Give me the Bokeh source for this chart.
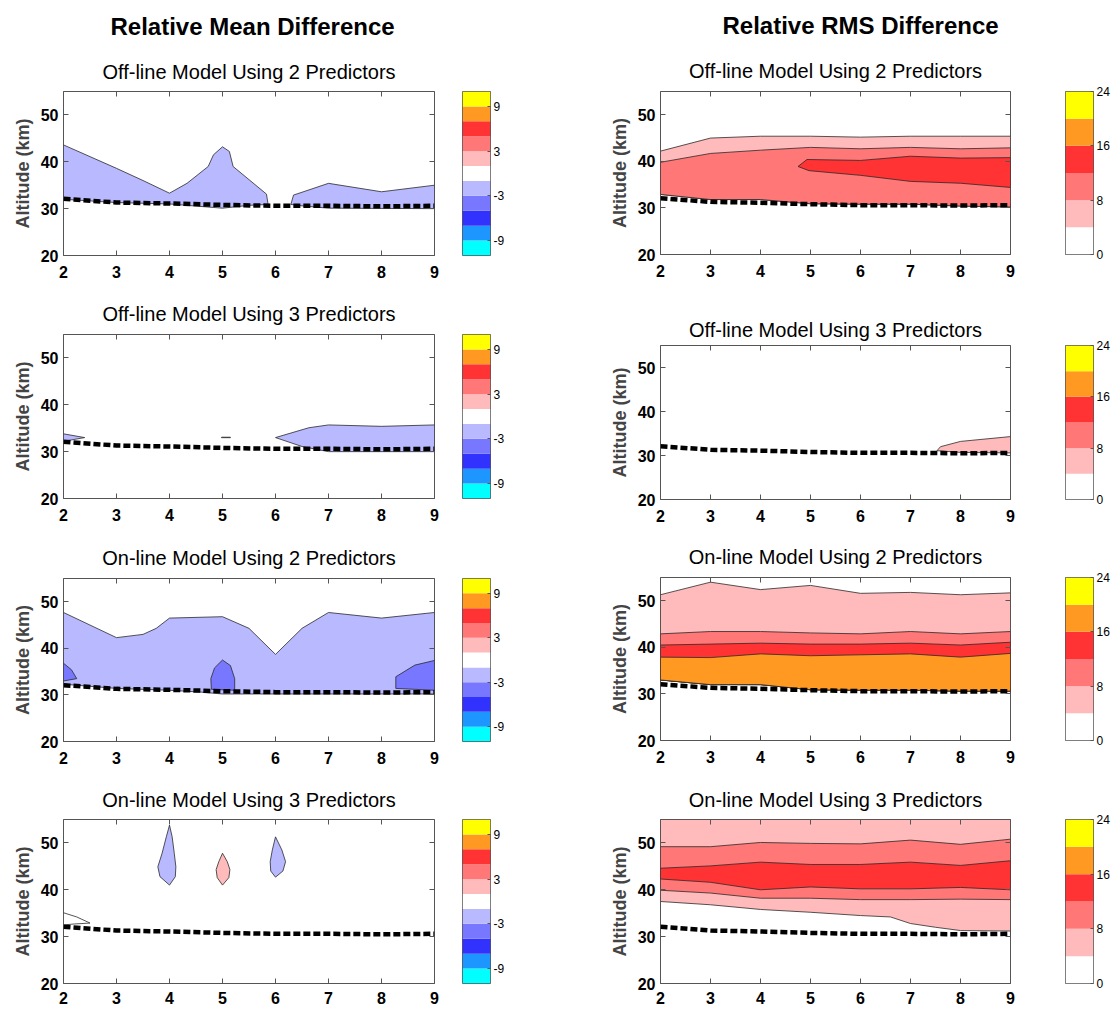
from bokeh.plotting import figure
from bokeh.layouts import row, column
from bokeh.models import Title, LinearAxis, FixedTicker, Range1d
from bokeh.embed import file_html
from bokeh.resources import INLINE

FONT = "Liberation Sans"

# ---------------- data ----------------
X = [2, 3, 4, 5, 6, 7, 8, 9]
X_TICKS = [2, 3, 4, 5, 6, 7, 8, 9]
Y_TICKS = [20, 30, 40, 50]
Y_MIN, Y_MAX = 20, 55

# dashed reference altitude line (km)
TROPO = [32.1, 31.3, 31.1, 30.8, 30.6, 30.6, 30.5, 30.6]

# colour scales
MEAN_EDGES = [-11, -9, -7, -5, -3, -1, 1, 3, 5, 7, 9, 11]
MEAN_COLORS = ["#00FFFF", "#1E96FF", "#3232FF", "#7777FF", "#B9B9FF", "#FFFFFF",
               "#FFBBBB", "#FF7777", "#FF3333", "#FF9922", "#FFFF00"]
MEAN_TICKS = [-9, -3, 3, 9]
MEAN_TICK_LABELS = ["-9", "-3", "3", "9"]
RMS_EDGES = [0, 4, 8, 12, 16, 20, 24]
RMS_COLORS = ["#FFFFFF", "#FFBBBB", "#FF7777", "#FF3333", "#FF9922", "#FFFF00"]
RMS_TICKS = [0, 8, 16, 24]
RMS_TICK_LABELS = ["0", "8", "16", "24"]

LAV, MED = MEAN_COLORS[4], MEAN_COLORS[3]
PINK_M = MEAN_COLORS[6]
PINK, SALMON, RED, ORANGE = RMS_COLORS[1], RMS_COLORS[2], RMS_COLORS[3], RMS_COLORS[4]

# --- Relative mean difference, off-line 2 predictors (-3..-1 regions)
A_R1_X = [2, 3, 3.5, 4, 4.33, 4.73, 4.83, 5.0, 5.13, 5.2, 5.83, 5.86, 5.5, 5.0, 4.0, 3.0, 2.0]
A_R1_Y = [43.6, 38.6, 36.0, 33.3, 35.4, 39.0, 41.5, 43.2, 42.2, 39.0, 33.1, 30.9, 30.7, 30.1, 31.0, 31.3, 32.0]
A_R2_X = [6.29, 6.34, 6.5, 7.0, 8.0, 9.0, 9.0, 7.0, 6.5]
A_R2_Y = [30.9, 32.9, 33.5, 35.4, 33.6, 35.0, 30.0, 30.1, 30.6]

# --- Relative mean difference, off-line 3 predictors
B_R1_X = [2, 2.4, 2]
B_R1_Y = [33.8, 33.0, 32.2]
B_R2_X = [4.98, 5.15, 5.15, 4.98]
B_R2_Y = [33.08, 33.08, 32.98, 32.98]
B_R3_X = [6.0, 6.63, 7.0, 8.0, 9.0, 9.0, 7.0, 6.5]
B_R3_Y = [33.0, 35.1, 35.7, 35.4, 35.7, 30.0, 30.0, 31.1]

# --- Relative mean difference, on-line 2 predictors
C_TOP_X = [2, 3, 3.5, 3.75, 4, 5, 5.5, 6, 6.5, 7, 8, 9]
C_TOP_Y = [47.7, 42.3, 43.0, 44.3, 46.5, 46.8, 44.3, 38.7, 44.3, 47.7, 46.5, 47.7]
C_BOT_X = [9, 5, 4.6, 4, 3, 2]
C_BOT_Y = [30.2, 30.2, 30.6, 31.0, 31.4, 32.3]
C_M1_X = [2, 2.15, 2.25, 2]
C_M1_Y = [36.8, 35.4, 33.5, 33.0]
C_M2_X = [4.79, 4.78, 4.85, 5.0, 5.15, 5.23, 5.23]
C_M2_Y = [31.2, 33.5, 35.8, 37.5, 36.3, 33.5, 31.0]
C_M3_X = [8.27, 8.27, 8.63, 9, 9]
C_M3_Y = [31.4, 33.9, 36.4, 37.4, 31.0]

# --- Relative mean difference, on-line 3 predictors
D_B1_X = [4.0, 4.05, 4.09, 4.12, 4.11, 4.0, 3.82, 3.78, 3.86, 3.94]
D_B1_Y = [53.8, 51.3, 47.8, 44.9, 42.8, 41.0, 42.8, 44.9, 47.8, 51.3]
D_P_X = [5.0, 5.09, 5.14, 5.12, 5.0, 4.9, 4.88, 4.93]
D_P_Y = [47.8, 46.0, 44.3, 42.6, 41.0, 42.6, 44.3, 46.0]
D_B2_X = [6.0, 6.12, 6.19, 6.14, 6.0, 5.91, 5.9, 5.94]
D_B2_Y = [51.3, 48.5, 46.0, 44.0, 42.7, 44.0, 46.0, 48.5]
D_W_X = [2, 2.25, 2.5, 2.2, 2]
D_W_Y = [35.1, 34.2, 32.9, 32.7, 32.5]

# --- Relative RMS difference, off-line 2 predictors
E_BASE = [32.9, 31.8, 31.8, 30.9, 30.8, 30.8, 30.4, 30.2]
E_PINK_TOP = [42.2, 45.0, 45.4, 45.4, 45.2, 45.4, 45.4, 45.4]
E_SALMON_TOP = [39.8, 41.7, 42.4, 43.0, 42.7, 43.0, 42.7, 42.9]
E_RED_X = [4.75, 4.93, 6, 7, 8, 9, 9, 8, 7, 6, 4.97]
E_RED_Y = [38.9, 40.4, 40.2, 41.1, 40.7, 40.8, 34.4, 35.3, 35.7, 37.0, 38.0]

# --- Relative RMS difference, off-line 3 predictors
F_PINK_X = [7.53, 7.6, 8, 9, 9, 8]
F_PINK_Y = [31.1, 32.0, 33.2, 34.3, 30.6, 30.7]

# --- Relative RMS difference, on-line 2 predictors
G_BASE = [33.0, 32.0, 32.0, 30.9, 30.8, 30.8, 30.6, 30.6]
G_PINK_TOP = [51.3, 54.0, 52.4, 53.3, 51.6, 51.8, 51.3, 51.7]
G_SALMON_TOP = [42.9, 43.4, 43.4, 43.1, 42.9, 43.4, 42.9, 43.4]
G_RED_TOP = [40.5, 40.7, 40.9, 40.7, 40.7, 40.9, 40.5, 41.1]
G_ORANGE_TOP = [37.9, 37.8, 38.6, 38.2, 38.4, 38.6, 37.9, 38.7]

# --- Relative RMS difference, on-line 3 predictors
H_PINK_X = [2, 3, 4, 5, 6, 6.6, 7, 7.5, 8, 9]
H_PINK_BOTTOM = [37.5, 36.8, 35.8, 35.2, 34.5, 34.2, 32.8, 32.0, 31.3, 31.2]
H_SALMON_TOP = [49.2, 49.2, 50.1, 49.9, 49.8, 50.6, 49.7, 50.8]
H_SALMON_BOTTOM = [39.9, 39.3, 38.2, 38.2, 37.9, 37.9, 38.0, 37.9]
H_RED_TOP = [44.6, 45.1, 45.9, 45.4, 45.4, 45.9, 45.2, 46.2]
H_RED_BOTTOM = [42.3, 41.6, 40.0, 40.6, 40.2, 40.2, 40.5, 40.0]

TITLES = ["Off-line Model Using 2 Predictors", "Off-line Model Using 3 Predictors",
          "On-line Model Using 2 Predictors", "On-line Model Using 3 Predictors"]
MAIN_L = "Relative Mean Difference"
MAIN_R = "Relative RMS Difference"

# ---------------- helpers ----------------
LINE_C = "#2a2a2a"
FRAME_C = "#555555"


def band(xs, top, bottom):
    return list(xs) + list(xs)[::-1], list(top) + list(bottom)[::-1]


def main_fig(sub, fw, geo, mb_l, main=None, main_off=0, main_stand=19):
    mb_t, fh, mb_b, xstand, sub_stand = geo
    p = figure(frame_width=fw, frame_height=fh, x_range=Range1d(2, 9),
               y_range=Range1d(Y_MIN, Y_MAX), toolbar_location=None,
               output_backend="svg", min_border_left=mb_l, min_border_right=10,
               min_border_top=mb_t, min_border_bottom=mb_b)
    p.xgrid.visible = False
    p.ygrid.visible = False
    p.outline_line_color = FRAME_C
    p.outline_line_width = 1
    for ax, ticks in ((p.xaxis, X_TICKS), (p.yaxis, Y_TICKS)):
        ax.ticker = FixedTicker(ticks=ticks)
        ax.major_tick_in = 5
        ax.major_tick_out = 0
        ax.minor_tick_in = 0
        ax.minor_tick_out = 0
        ax.axis_line_color = None
        ax.major_tick_line_color = FRAME_C
        ax.major_label_text_font = FONT
        ax.major_label_text_font_size = "16px"
        ax.major_label_text_font_style = "bold"
        ax.major_label_text_color = "black"
    p.xaxis.major_label_standoff = xstand
    p.yaxis.major_label_standoff = 5
    p.yaxis.axis_label = "Altitude (km)"
    p.yaxis.axis_label_text_font = FONT
    p.yaxis.axis_label_text_font_size = "18px"
    p.yaxis.axis_label_text_font_style = "bold"
    p.yaxis.axis_label_standoff = 5
    for loc, ticks in (("above", X_TICKS), ("right", Y_TICKS)):
        ax = LinearAxis(ticker=FixedTicker(ticks=ticks), major_tick_in=5, major_tick_out=0,
                        minor_tick_in=0, minor_tick_out=0, axis_line_color=None,
                        major_tick_line_color=FRAME_C, major_label_text_font_size="1px",
                        major_label_text_color=None, major_label_standoff=0)
        p.add_layout(ax, loc)
    sub_t = Title(text=sub, align="center", text_font=FONT, text_font_size="20px",
                  text_font_style="normal", text_color="black", standoff=sub_stand)
    if main is None:
        p.title = sub_t
    else:
        p.title = Title(text=main, align="left", text_font=FONT, text_font_size="24px",
                        text_font_style="bold", text_color="black", offset=main_off,
                        standoff=main_stand)
        p.add_layout(sub_t, "above")
    return p


def draw(p, polys):
    for xs, ys, color in polys:
        p.patch(xs, ys, fill_color=color, line_color=LINE_C, line_width=0.8)
    p.line(X, TROPO, line_color="black", line_width=4.5, line_dash="7 3")


def cbar_fig(edges, colors, ticks, labels, geo, mb_l, mb_r):
    mb_t, fh, mb_b = geo[0], geo[1], geo[2]
    p = figure(frame_width=28, frame_height=fh, x_range=Range1d(0, 1),
               y_range=Range1d(edges[0], edges[-1]), x_axis_location=None,
               y_axis_location="right", toolbar_location=None, output_backend="svg",
               min_border_left=mb_l, min_border_right=mb_r, min_border_top=mb_t,
               min_border_bottom=mb_b)
    p.grid.visible = False
    p.outline_line_color = FRAME_C
    p.quad(left=0, right=1, bottom=edges[:-1], top=edges[1:], fill_color=colors, line_color=None)
    ax = p.yaxis
    ax.ticker = FixedTicker(ticks=ticks)
    ax.major_label_overrides = {t: s for t, s in zip(ticks, labels)}
    ax.major_tick_in = 3
    ax.major_tick_out = 0
    ax.minor_tick_in = 0
    ax.minor_tick_out = 0
    ax.axis_line_color = None
    ax.major_tick_line_color = FRAME_C
    ax.major_label_standoff = 3
    ax.major_label_text_font = FONT
    ax.major_label_text_font_size = "12px"
    ax.major_label_text_color = "black"
    return p


# row geometry: (top border, frame height, bottom border, x label standoff, subtitle standoff)
ROWS_L = [(90, 164, 36, 10, 17), (43, 164, 36, 10, 19), (44, 163, 36, 10, 19), (42, 164, 26, 8, 17)]
ROWS_R = [(91, 163, 36, 10, 19), (55, 154, 34, 10, 10), (44, 163, 36, 10, 19), (43, 164, 25, 8, 17)]

polys_L = [
    [(A_R1_X, A_R1_Y, LAV), (A_R2_X, A_R2_Y, LAV)],
    [(B_R1_X, B_R1_Y, LAV), (B_R2_X, B_R2_Y, LAV), (B_R3_X, B_R3_Y, LAV)],
    [(C_TOP_X + C_BOT_X, C_TOP_Y + C_BOT_Y, LAV), (C_M1_X, C_M1_Y, MED),
     (C_M2_X, C_M2_Y, MED), (C_M3_X, C_M3_Y, MED)],
    [(D_W_X, D_W_Y, "#FFFFFF"), (D_B1_X, D_B1_Y, LAV), (D_P_X, D_P_Y, PINK_M),
     (D_B2_X, D_B2_Y, LAV)],
]

polys_R = [
    [(*band(X, E_PINK_TOP, E_BASE), PINK), (*band(X, E_SALMON_TOP, E_BASE), SALMON),
     (E_RED_X, E_RED_Y, RED)],
    [(F_PINK_X, F_PINK_Y, PINK)],
    [(*band(X, G_PINK_TOP, G_BASE), PINK), (*band(X, G_SALMON_TOP, G_BASE), SALMON),
     (*band(X, G_RED_TOP, G_BASE), RED), (*band(X, G_ORANGE_TOP, G_BASE), ORANGE)],
    [(*band(H_PINK_X, [Y_MAX] * len(H_PINK_X), H_PINK_BOTTOM), PINK),
     (*band(X, H_SALMON_TOP, H_SALMON_BOTTOM), SALMON),
     (*band(X, H_RED_TOP, H_RED_BOTTOM), RED)],
]

left_rows, right_rows = [], []
for i in range(4):
    pl = main_fig(TITLES[i], 371, ROWS_L[i], 63, main=MAIN_L if i == 0 else None,
                  main_off=47, main_stand=21)
    draw(pl, polys_L[i])
    cl = cbar_fig(MEAN_EDGES, MEAN_COLORS, MEAN_TICKS, MEAN_TICK_LABELS, ROWS_L[i], 18, 40)
    left_rows.append(row(pl, cl))
    pr = main_fig(TITLES[i], 350, ROWS_R[i], 130, main=MAIN_R if i == 0 else None,
                  main_off=62, main_stand=19)
    draw(pr, polys_R[i])
    cr = cbar_fig(RMS_EDGES, RMS_COLORS, RMS_TICKS, RMS_TICK_LABELS, ROWS_R[i], 45, 20)
    right_rows.append(row(pr, cr))

layout = row(column(*left_rows), column(*right_rows))
open("out.html", "w").write(file_html(layout, INLINE))
